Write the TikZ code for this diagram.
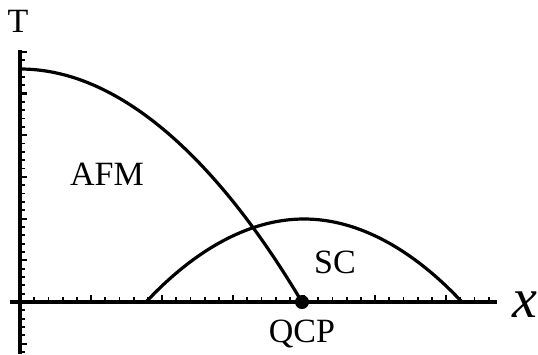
\documentclass[tikz,border=0pt]{standalone}
\usepackage{fontspec}
\setmainfont{Liberation Serif}
\usetikzlibrary{positioning}
\tikzset{
  ax/.style={line width=3.4pt, draw=black},
  crv/.style={line width=3.2pt, draw=black},
  tkmaj/.style={line width=2.2pt, draw=black},
  tkmin/.style={line width=1.8pt, draw=black},
  lab/.style={font=\fontsize{34}{40}\selectfont, inner sep=0pt},
  dot/.style={circle, fill=black, inner sep=0pt, minimum size=14pt},
}

\begin{document}
\begin{tikzpicture}[x=1pt, y=-1pt]
  \useasboundingbox (0,0) rectangle (538,354);
  % axes
  \coordinate (xbeg) at (10,302); \coordinate (xend) at (497,302);
  \coordinate (ytop) at (20,50);  \coordinate (ybot) at (20,354);
  \foreach \k in {1,...,33} {
    \pgfmathtruncatemacro\m{mod(\k,5)}
    \ifnum\m=0 \draw[tkmaj] (20+14.2*\k,302) -- ++(0,-7);
    \else \draw[tkmin] (20+14.2*\k,302) -- ++(0,-5); \fi
  }
  \foreach \k in {-6,...,30} {
    \pgfmathtruncatemacro\m{mod(\k,5)}
    \ifnum\k=0 \else
      \ifnum\m=0 \draw[tkmaj] (20,302-8.34*\k) -- ++(7,0);
      \else \draw[tkmin] (20,302-8.34*\k) -- ++(5,0); \fi
    \fi
  }
  \draw[ax] (xbeg) -- (xend);
  \draw[ax] (ytop) -- (ybot);
  % phase boundaries
  \coordinate (afm0) at (20,69);
  \coordinate (qcp) at (302,302);
  \coordinate (sc0) at (146,302); \coordinate (sctop) at (304,219); \coordinate (sc1) at (462,302);
  \draw[crv] (afm0) parabola (qcp);
  \draw[crv] (sc0) parabola bend (sctop) (sc1);
  \node[dot] (qcpdot) at (qcp) {};
  % labels
  \node[lab] (tlab) at (18,21) {T};
  \node[lab] (afm) at (107,174) {AFM};
  \node[lab] (sc) at (335,262) {SC};
  \node[lab, below=11pt of qcpdot] (qcplab) {QCP};
  \node[font=\fontsize{56}{60}\selectfont\itshape, inner sep=0pt] (xlab) at (525,305) {x};
\end{tikzpicture}
\end{document}
